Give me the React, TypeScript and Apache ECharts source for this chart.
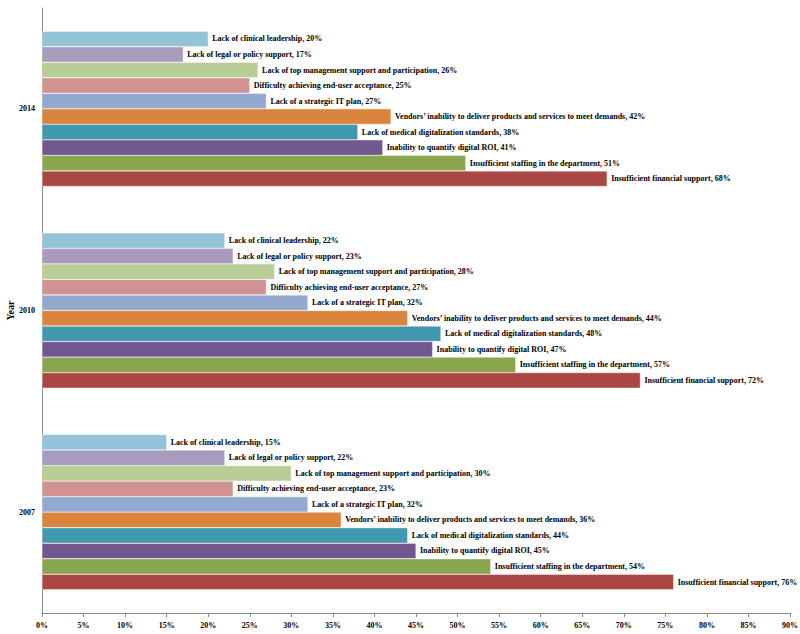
import React, { useEffect, useRef } from "react";
import * as echarts from "echarts";

const years = ["2007", "2010", "2014"];
// listed from top bar to bottom bar within each year
const seriesNames = [
  "Lack of clinical leadership",
  "Lack of legal or policy support",
  "Lack of top management support and participation",
  "Difficulty achieving end-user acceptance",
  "Lack of a strategic IT plan",
  "Vendors’ inability to deliver products and services to meet demands",
  "Lack of medical digitalization standards",
  "Inability to quantify digital ROI",
  "Insufficient staffing in the department",
  "Insufficient financial support",
];
const clinical = [15, 22, 20];
const legal = [22, 23, 17];
const topMgmt = [30, 28, 26];
const endUser = [23, 27, 25];
const itPlan = [32, 32, 27];
const vendors = [36, 44, 42];
const standards = [44, 48, 38];
const roi = [45, 47, 41];
const staffing = [54, 57, 51];
const financial = [76, 72, 68];
const seriesValues = [clinical, legal, topMgmt, endUser, itPlan, vendors, standards, roi, staffing, financial];
const colors = [
  "#92C3D6",
  "#A99BBD",
  "#B9CD96",
  "#D19392",
  "#93A9CF",
  "#DB843D",
  "#4198AF",
  "#71588F",
  "#89A54E",
  "#AA4643",
];

const FONT = "Liberation Serif";

export default function App() {
  const ref = useRef<HTMLDivElement>(null);
  useEffect(() => {
    if (!ref.current) return;
    const chart = echarts.init(ref.current, undefined, { renderer: "svg" });
    chart.setOption({
      animation: false,
      backgroundColor: "#ffffff",
      grid: {
        left: 42,
        right: 10,
        top: 8,
        bottom: 21,
        containLabel: false,
        outerBoundsMode: "none",
      },
      xAxis: {
        type: "value",
        min: 0,
        max: 90,
        interval: 5,
        axisLine: { show: true, lineStyle: { color: "#888" } },
        axisTick: { show: true, length: 4, lineStyle: { color: "#888" } },
        splitLine: { show: false },
        axisLabel: {
          formatter: "{value}%",
          fontFamily: FONT,
          fontWeight: "bold",
          fontSize: 8,
          color: "#000",
          margin: 8,
        },
      },
      yAxis: {
        type: "category",
        data: years,
        name: "Year",
        nameLocation: "middle",
        nameGap: 27,
        nameMoveOverlap: false,
        nameRotate: 90,
        nameTextStyle: { fontFamily: FONT, fontWeight: "bold", fontSize: 10, color: "#000" },
        axisLine: { show: true, lineStyle: { color: "#888" } },
        axisTick: { show: false },
        axisLabel: { fontFamily: FONT, fontWeight: "bold", fontSize: 8, color: "#000", margin: 7 },
      },
      series: seriesNames.map((name, i) => ({
        name,
        type: "bar",
        data: seriesValues[i],
        barGap: "0%",
        barCategoryGap: "23%",
        itemStyle: { color: colors[i], borderColor: "#ffffff", borderWidth: 0.4 },
        label: {
          show: true,
          position: "right",
          distance: 4,
          formatter: "{a}, {c}%",
          fontFamily: FONT,
          fontWeight: "bold",
          fontSize: 8,
          color: "#000",
        },
      })),
    });
    return () => chart.dispose();
  }, []);
  return (
    <div
      ref={ref}
      style={{ position: "absolute", left: 0, top: 0, width: 800, height: 634 }}
    />
  );
}
